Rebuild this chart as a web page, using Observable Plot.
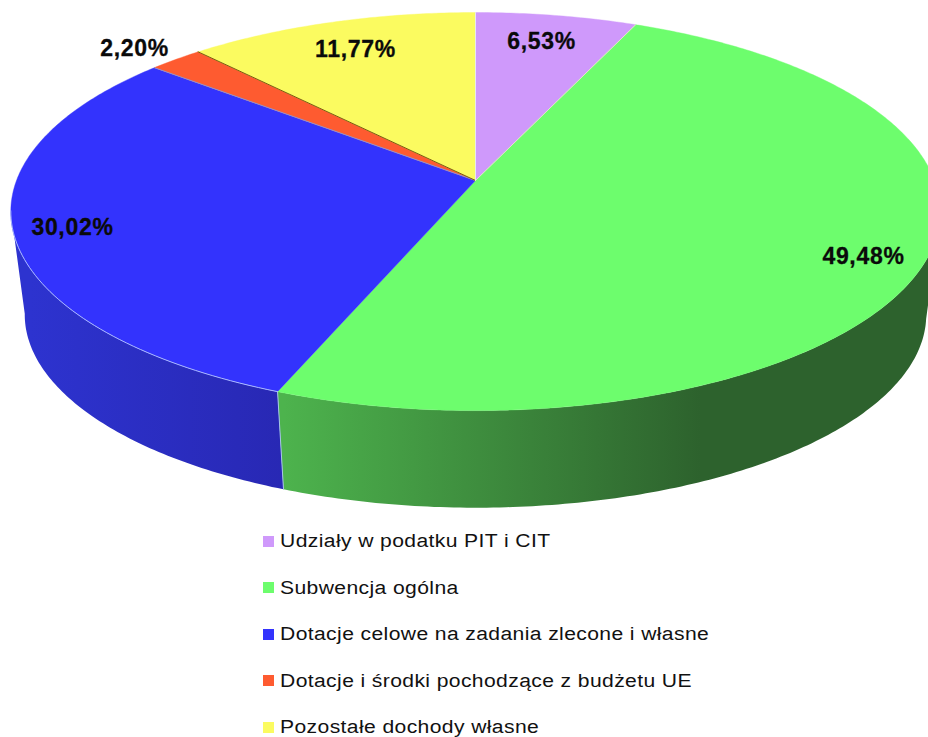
<!DOCTYPE html>
<html><head><meta charset="utf-8">
<script src="https://cdn.jsdelivr.net/npm/d3@7"></script>
<script src="https://cdn.jsdelivr.net/npm/@observablehq/plot@0.6"></script>
<style>
html,body{margin:0;padding:0;background:#fff;width:928px;height:737px;overflow:hidden}
svg{display:block}
#legend{font:19.2px "Liberation Sans",Arial,sans-serif;color:#111;letter-spacing:.35px}
#legend div{height:46.5px;line-height:46.5px;padding-left:263px;display:flex;align-items:center;white-space:nowrap}
#legend i{display:block;width:11px;height:11px;margin-right:6px;flex:none}
#legend span{display:inline-block;transform:scaleX(1.1);transform-origin:left center}
</style></head><body>
<div id="chart"></div><div id="legend"></div>
<script>
const categories = ["Udziały w podatku PIT i CIT","Subwencja ogólna","Dotacje celowe na zadania zlecone i własne","Dotacje i środki pochodzące z budżetu UE","Pozostałe dochody własne"];
const shares = [6.53,49.48,30.02,2.20,11.77];
const labels = ["6,53%","49,48%","30,02%","2,20%","11,77%"];
const colors = ["#cf99fb","#6dfd6d","#3333fd","#fe5b30","#fbfb60"];
const labelX = [541,863,72,134,355];
const labelY = [41,256,227,48,49];

// perspective disc
const cx=475,cy=180,A=459,B=194.2,k=0.156,shrink=0.97,drop=104;
const rim=t=>{const u=Math.sin(t),v=Math.cos(t),w=1+k*v;return [cx+A*u/w,cy-B*v/w]};
const low=([x,y])=>[cx+(x-cx)*shrink,cy+(y-cy)*shrink+drop];
const total=d3.sum(shares);
const cum=d3.cumsum(shares);
const start=i=>(i?cum[i-1]:0)/total*2*Math.PI, end=i=>cum[i]/total*2*Math.PI;

const tops=[];
shares.forEach((s,i)=>{
  const a=start(i),b=end(i),n=Math.max(8,Math.ceil((b-a)*90));
  tops.push({id:"t"+i,x:cx,y:cy,c:colors[i]});
  for(let j=0;j<=n;j++){const p=rim(a+(b-a)*j/n);tops.push({id:"t"+i,x:p[0],y:p[1],c:colors[i]});}
});

const sidePoly=(id,a,b)=>{
  const n=Math.ceil((b-a)*80),up=[];
  for(let j=0;j<=n;j++)up.push(rim(a+(b-a)*j/n));
  return [...up,...up.map(low).reverse()].map(p=>({id,x:p[0],y:p[1]}));
};
const leftLimit=4.56;
const greenSide=sidePoly("g",1.75,end(1));
const blueSide=sidePoly("b",end(1),leftLimit);

const rimLine=[];
for(let t=end(1);t<=leftLimit;t+=0.02){const p=rim(t);rimLine.push({id:"r",x:p[0],y:p[1]});}
const vEdge=[rim(end(1)),low(rim(end(1)))].map(p=>({id:"v",x:p[0],y:p[1]}));
const seg=(i,c)=>[[cx,cy],rim(end(i))].map(p=>({x:p[0],y:p[1],id:"s"+i,c}));
const seps=[...seg(2,"#8f8fd0"),...seg(3,"#7a5a10"),...seg(4,"#e8e8f0"),...seg(0,"#e6e0d0")];
const labelRows=labels.map((t,i)=>({t,x:labelX[i],y:labelY[i]}));

const gradients=()=>{
  const defs=d3.create("svg:defs");
  const add=(id,x1,x2,stops)=>{
    const g=defs.append("linearGradient").attr("id",id).attr("gradientUnits","userSpaceOnUse")
      .attr("x1",x1).attr("x2",x2).attr("y1",0).attr("y2",0);
    stops.forEach(([o,c])=>g.append("stop").attr("offset",o).attr("stop-color",c));
  };
  add("gGreen",283,700,[[0,"#4db34d"],[1,"#2d622d"]]);
  add("gBlue",30,283,[[0,"#2d33cf"],[1,"#2828b4"]]);
  return defs.node();
};

const plot=Plot.plot({
  width:928,height:520,margin:0,
  style:{letterSpacing:"0.7px"},
  x:{axis:null,domain:[0,928],range:[0,928]},
  y:{axis:null,domain:[0,520],range:[0,520]},
  marks:[
    gradients,
    Plot.line(greenSide,{x:"x",y:"y",z:"id",fill:"url(#gGreen)",stroke:"none",curve:"linear"}),
    Plot.line(blueSide,{x:"x",y:"y",z:"id",fill:"url(#gBlue)",stroke:"none",curve:"linear"}),
    Plot.line(tops,{x:"x",y:"y",z:"id",fill:"c",stroke:"c",strokeWidth:0.4,curve:"linear"}),
    Plot.line(seps,{x:"x",y:"y",z:"id",stroke:"c",strokeWidth:1}),
    Plot.line(rimLine,{x:"x",y:"y",z:"id",stroke:"#a9b8ff",strokeWidth:1}),
    Plot.line(vEdge,{x:"x",y:"y",z:"id",stroke:"#a6c6e6",strokeWidth:1}),
    Plot.text(labelRows,{x:"x",y:"y",text:"t",fontSize:23,fontWeight:"bold",fill:"#0a0a0a",stroke:"#0a0a0a",strokeWidth:0.3,fontFamily:"Liberation Sans"})
  ]
});
document.getElementById("chart").append(plot);
const lg=document.getElementById("legend");
lg.style.marginTop="-2px";
categories.forEach((c,i)=>{
  const r=document.createElement("div");
  const sw=document.createElement("i");sw.style.background=colors[i];
  const t=document.createElement("span");t.textContent=c;
  r.append(sw,t);lg.append(r);
});
</script></body></html>
